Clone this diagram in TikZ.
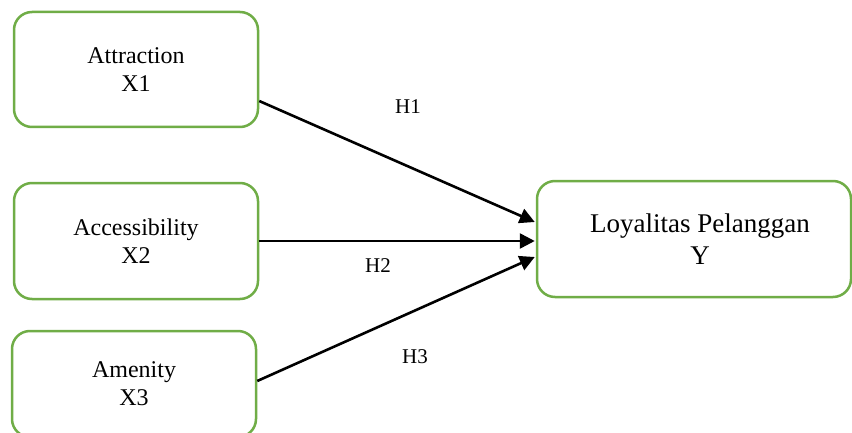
\documentclass[tikz,border=0pt]{standalone}
\usepackage{fontspec}
\setmainfont{Liberation Serif}
\usetikzlibrary{arrows.meta,calc}
\definecolor{boxgreen}{RGB}{112,173,71}
\tikzset{
  varbox/.style={draw=boxgreen, line width=2.5pt, rounded corners=18pt, fill=white,
    align=center, inner sep=0pt, font=\fontsize{24}{28}\selectfont},
  link/.style={line width=2.6pt, -{Triangle[length=15pt,width=15pt]}},
  hyp/.style={font=\fontsize{21}{24}\selectfont, inner sep=0pt}
}
\begin{document}
\begin{tikzpicture}[x=1pt,y=1pt]
  \useasboundingbox (0,0) rectangle (852,432);
  \clip (0,0) rectangle (852,432);
  % independent variables
  \node[varbox, minimum width=244pt, minimum height=115pt] (x1) at (136,362.5) {Attraction\\X1};
  \node[varbox, minimum width=244pt, minimum height=116pt] (x2) at (136,191) {Accessibility\\X2};
  \node[varbox, minimum width=244pt, minimum height=106pt] (x3) at (134,48) {Amenity\\X3};
  % dependent variable
  \node[varbox, minimum width=314pt, minimum height=116pt,
        font=\fontsize{27}{32}\selectfont] (y) at (694,193) {\hspace*{12pt}Loyalitas Pelanggan\\\hspace*{12pt}Y};
  % hypothesised paths
  \draw[link] ($(x1.east)+(0,-31.5)$) -- ($(y.west)+(-1,17)$);
  \draw[link] (x2.east) -- ($(y.west |- x2.east)+(-1,0)$);
  \draw[link] ($(x3.east)+(0,3)$) -- ($(y.west)+(-1,-18)$);
  % path labels
  \node[hyp] (h1) at (408,325) {H1};
  \node[hyp] (h2) at (378,166) {H2};
  \node[hyp] (h3) at (415,75) {H3};
\end{tikzpicture}
\end{document}
